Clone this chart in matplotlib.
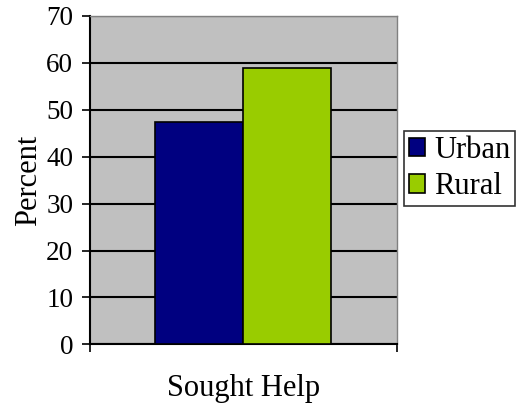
import matplotlib.pyplot as plt
import numpy as np

plt.rcParams['font.family'] = ['Liberation Serif', 'DejaVu Serif']

# data
category = 'Sought Help'
groups = ['Urban', 'Rural']
values = [47.4, 58.9]
colors = ['#000080', '#99CC00']

fig = plt.figure(figsize=(5.18, 4.08), dpi=100)
ax = fig.add_axes([0.1737, 0.156, 0.592, 0.805])
ax.set_facecolor('#C0C0C0')

width = 0.287
offsets = [-width / 2, width / 2]
for g, v, c, off in zip(groups, values, colors, offsets):
    ax.bar(off, v, width=width, color=c, edgecolor='black', linewidth=1.2, label=g, zorder=3)

ax.set_xlim(-0.5, 0.5)
ax.set_ylim(0, 70)
ax.set_yticks(np.arange(0, 71, 10))
ax.yaxis.grid(True, color='black', linewidth=1.5, zorder=1)
ax.set_axisbelow(True)
ax.tick_params(axis='y', labelsize=19.5, length=6, width=1.2, direction='out', pad=6)
ax.set_xticks([-0.5, 0.5])
ax.set_xticklabels(['', ''])
ax.tick_params(axis='x', length=6, width=1.2, direction='out')
ax.set_xlabel(category, fontsize=22, labelpad=12)
ax.set_ylabel('Percent', fontsize=22, labelpad=2)

for s in ['left', 'bottom']:
    ax.spines[s].set_color('black')
    ax.spines[s].set_linewidth(1.5)
for s in ['top', 'right']:
    ax.spines[s].set_color('#808080')
    ax.spines[s].set_linewidth(1.0)

leg = fig.legend(loc='upper left', bbox_to_anchor=(404 / 518, 1 - 131 / 408),
                 fontsize=22, frameon=True, fancybox=False, edgecolor='black',
                 handlelength=0.55, handleheight=0.55, handletextpad=0.3,
                 borderpad=0.15, labelspacing=0.25, borderaxespad=0)
leg.get_frame().set_linewidth(1.2)
for p in leg.get_patches():
    p.set_edgecolor('black')

fig.savefig('out.png', dpi=100)
